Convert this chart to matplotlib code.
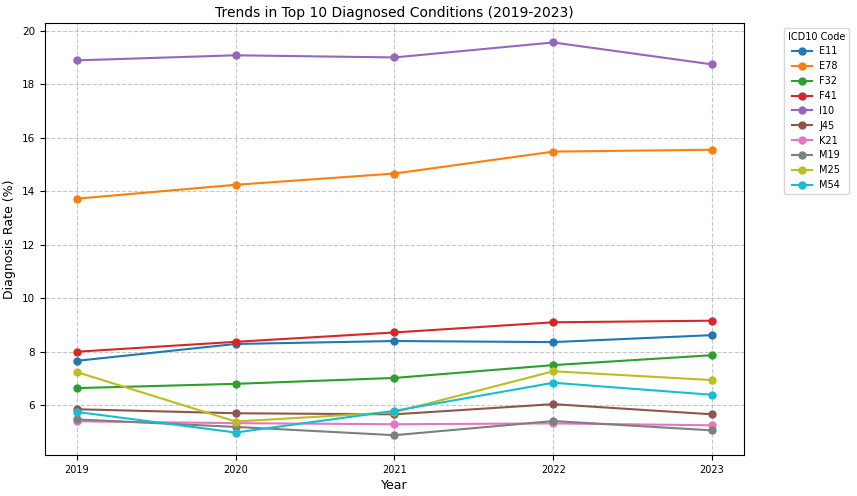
import matplotlib.pyplot as plt
import numpy as np

years = [2019, 2020, 2021, 2022, 2023]
codes = ['E11', 'E78', 'F32', 'F41', 'I10', 'J45', 'K21', 'M19', 'M25', 'M54']

e11 = [7.67, 8.30, 8.41, 8.37, 8.63]
e78 = [13.73, 14.25, 14.67, 15.49, 15.56]
f32 = [6.65, 6.81, 7.03, 7.51, 7.88]
f41 = [8.01, 8.38, 8.73, 9.11, 9.17]
i10 = [18.90, 19.09, 19.01, 19.57, 18.75]
j45 = [5.86, 5.71, 5.67, 6.05, 5.67]
k21 = [5.41, 5.34, 5.30, 5.33, 5.26]
m19 = [5.48, 5.20, 4.89, 5.42, 5.07]
m25 = [7.25, 5.40, 5.75, 7.28, 6.95]
m54 = [5.76, 4.99, 5.80, 6.85, 6.40]

rates = [e11, e78, f32, f41, i10, j45, k21, m19, m25, m54]

fig, ax = plt.subplots(figsize=(8.57, 4.96), dpi=100)
fig.subplots_adjust(left=0.0525, right=0.868, top=0.954, bottom=0.083)

for code, vals in zip(codes, rates):
    ax.plot(years, vals, marker='o', markersize=5, label=code)

ax.set_title('Trends in Top 10 Diagnosed Conditions (2019-2023)', fontsize=10, pad=4)
ax.set_xlabel('Year', fontsize=9, labelpad=3)
ax.set_ylabel('Diagnosis Rate (%)', fontsize=9)
ax.set_xticks(years)
ax.tick_params(axis='x', labelsize=7)
ax.tick_params(axis='y', labelsize=7.5)
ax.grid(True, linestyle='--', alpha=0.7)
ax.legend(title='ICD10 Code', bbox_to_anchor=(1.05, 1), loc='upper left',
          fontsize=7, title_fontsize=7)

plt.savefig('out.png', dpi=100)
